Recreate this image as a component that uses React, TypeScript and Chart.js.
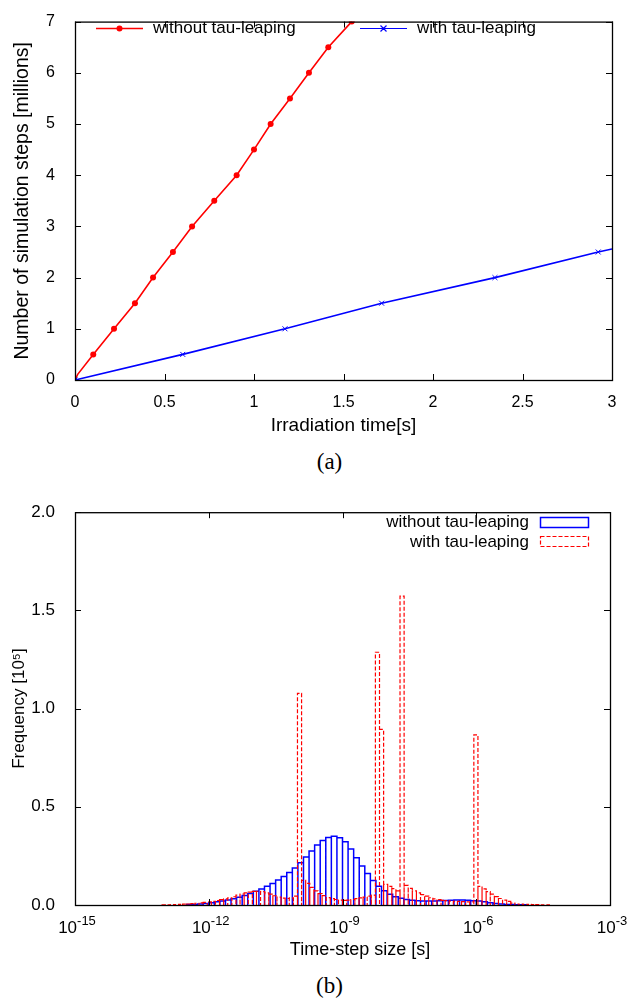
import React, { useEffect, useRef } from "react";
import { Chart, registerables } from "chart.js";
Chart.register(...registerables);

const SANS = "'Liberation Sans', Arial, Helvetica, sans-serif";
const SERIF = "'Liberation Serif', 'Times New Roman', serif";
Chart.defaults.font.family = SANS;
Chart.defaults.color = "#000";

// ---------- (a) simulation steps vs irradiation time ----------
const redTime = [0, 0.015, 0.102, 0.218, 0.335, 0.436, 0.547, 0.654, 0.778, 0.903, 1.0, 1.093, 1.201, 1.307, 1.415, 1.546];
const redSteps = [0, 0.11, 0.5, 1.0, 1.5, 2.0, 2.5, 3.0, 3.5, 4.0, 4.5, 5.0, 5.5, 6.0, 6.5, 7.0];
const blueTime = [0, 0.602, 1.173, 1.713, 2.346, 2.923, 3.0];
const blueSteps = [0, 0.5, 1.0, 1.5, 2.0, 2.5, 2.56];
const seriesA = ["without tau-leaping", "with tau-leaping"];

// ---------- (b) histogram of time-step sizes (log10 bins) ----------
const blueBinStart = -12.5;
const blueBinWidth = 0.125;
const blueFreq = [
  0.002, 0.003, 0.005, 0.008, 0.011, 0.016, 0.02, 0.025, 0.032, 0.04,
  0.049, 0.059, 0.07, 0.082, 0.096, 0.11, 0.127, 0.145, 0.165, 0.188,
  0.215, 0.245, 0.275, 0.305, 0.328, 0.344, 0.35, 0.342, 0.322, 0.285,
  0.24, 0.198, 0.16, 0.125, 0.096, 0.073, 0.055, 0.042, 0.034, 0.028,
  0.024, 0.022, 0.021, 0.021, 0.021, 0.022, 0.023, 0.024, 0.025, 0.025,
  0.024, 0.022, 0.02, 0.016, 0.012, 0.008, 0.005, 0.003, 0.002, 0.001, 0.001,
];
const redBinStart = -13.046;
const redBinWidth = 0.092;
const redFreq = [
  0.001, 0.001, 0.002, 0.002, 0.003, 0.004, 0.005, 0.007, 0.009, 0.011,
  0.013, 0.016, 0.019, 0.023, 0.027, 0.031, 0.036, 0.042, 0.05, 0.056,
  0.062, 0.066, 0.069, 0.07, 0.068, 0.062, 0.055, 0.047, 0.04, 0.035,
  0.033, 0.036, 0.045, 1.078, 0.125, 0.11, 0.09, 0.072, 0.058, 0.048,
  0.038, 0.032, 0.028, 0.025, 0.024, 0.025, 0.028, 0.032, 0.036, 0.04,
  0.045, 0.05, 1.287, 0.894, 0.105, 0.095, 0.083, 0.072, 1.573, 0.1,
  0.085, 0.072, 0.062, 0.053, 0.045, 0.037, 0.031, 0.027, 0.024, 0.022,
  0.02, 0.019, 0.018, 0.017, 0.016, 0.016, 0.866, 0.095, 0.082, 0.068,
  0.055, 0.043, 0.033, 0.025, 0.018, 0.01, 0.005, 0.004, 0.003, 0.003,
  0.002, 0.002, 0.001, 0.001, 0.001,
];
const xTickExps = [-15, -12, -9, -6, -3];
const yTicksB = [0, 0.5, 1.0, 1.5, 2.0];
const xTitleB = "Time-step size [s]";

function histOutline(start: number, width: number, vals: number[]) {
  const pts: { x: number; y: number }[] = [];
  vals.forEach((v, i) => {
    const l = Math.pow(10, start + i * width);
    const r = Math.pow(10, start + (i + 1) * width);
    pts.push({ x: l, y: 0 }, { x: l, y: v }, { x: r, y: v }, { x: r, y: 0 });
  });
  return pts;
}

// frame + inward mirrored ticks (gnuplot style)
const framePlugin = {
  id: "frame",
  afterDatasetsDraw(chart: any) {
    const { ctx, chartArea: a, scales } = chart;
    ctx.save();
    ctx.strokeStyle = "#000";
    ctx.lineWidth = 1;
    ctx.setLineDash([]);
    const tl = 6;
    const xs = scales.x;
    const ys = scales.y;
    const xv: number[] = chart.options.xTickVals || xs.ticks.map((t: any) => t.value);
    ctx.beginPath();
    xv.forEach((v) => {
      const px = Math.round(xs.getPixelForValue(v)) + 0.5;
      ctx.moveTo(px, a.bottom);
      ctx.lineTo(px, a.bottom - tl);
      ctx.moveTo(px, a.top);
      ctx.lineTo(px, a.top + tl);
    });
    ys.ticks.forEach((t: any) => {
      const py = Math.round(ys.getPixelForValue(t.value)) + 0.5;
      ctx.moveTo(a.left, py);
      ctx.lineTo(a.left + tl, py);
      ctx.moveTo(a.right, py);
      ctx.lineTo(a.right - tl, py);
    });
    ctx.stroke();
    ctx.lineWidth = 1.3;
    ctx.strokeRect(a.left + 0.5, a.top + 0.5, a.right - a.left, a.bottom - a.top);
    ctx.restore();
  },
};

const legendA = {
  id: "legendA",
  afterDraw(chart: any) {
    const { ctx } = chart;
    ctx.save();
    ctx.font = `17px ${SANS}`;
    ctx.textBaseline = "middle";
    ctx.textAlign = "left";
    // red
    ctx.strokeStyle = "#ff0000";
    ctx.lineWidth = 1.5;
    ctx.beginPath();
    ctx.moveTo(96, 28.5);
    ctx.lineTo(143, 28.5);
    ctx.stroke();
    ctx.fillStyle = "#ff0000";
    ctx.beginPath();
    ctx.arc(119.5, 28.5, 3, 0, Math.PI * 2);
    ctx.fill();
    ctx.fillStyle = "#000";
    ctx.fillText(seriesA[0], 153, 28);
    // blue
    ctx.strokeStyle = "#0000ff";
    ctx.lineWidth = 1.2;
    ctx.beginPath();
    ctx.moveTo(360, 28.5);
    ctx.lineTo(407, 28.5);
    ctx.moveTo(380.5, 25.5);
    ctx.lineTo(386.5, 31.5);
    ctx.moveTo(386.5, 25.5);
    ctx.lineTo(380.5, 31.5);
    ctx.stroke();
    ctx.fillText(seriesA[1], 417, 28);
    ctx.restore();
  },
};

const legendB = {
  id: "legendB",
  afterDraw(chart: any) {
    const { ctx } = chart;
    ctx.save();
    ctx.font = `17px ${SANS}`;
    ctx.textBaseline = "middle";
    ctx.textAlign = "right";
    ctx.fillStyle = "#000";
    ctx.fillText(seriesA[0], 529, 32);
    ctx.fillText(seriesA[1], 529, 52);
    ctx.strokeStyle = "#0000ff";
    ctx.lineWidth = 1.5;
    ctx.strokeRect(540.5, 27.5, 48, 10);
    ctx.strokeStyle = "#ff0000";
    ctx.lineWidth = 1.2;
    ctx.setLineDash([4, 2]);
    ctx.strokeRect(540.5, 46.5, 48, 10);
    ctx.restore();
  },
};

const xLabelsB = {
  id: "xLabelsB",
  afterDraw(chart: any) {
    const { ctx, scales } = chart;
    ctx.save();
    ctx.fillStyle = "#000";
    ctx.textBaseline = "alphabetic";
    ctx.textAlign = "left";
    xTickExps.forEach((e) => {
      const px = scales.x.getPixelForValue(Math.pow(10, e));
      ctx.font = `17px ${SANS}`;
      const w1 = ctx.measureText("10").width;
      ctx.font = `13px ${SANS}`;
      const w2 = ctx.measureText(String(e)).width;
      const x0 = px - (w1 + w2) / 2 + 2;
      ctx.font = `17px ${SANS}`;
      ctx.fillText("10", x0, 442.5);
      ctx.font = `13px ${SANS}`;
      ctx.fillText(String(e), x0 + w1, 435);
    });
    ctx.font = `18px ${SANS}`;
    ctx.textAlign = "center";
    ctx.textBaseline = "middle";
    ctx.fillText(xTitleB, 360, 460);
    ctx.restore();
  },
};

function ChartA() {
  const ref = useRef<HTMLCanvasElement>(null);
  useEffect(() => {
    const chart = new Chart(ref.current!, {
      type: "line",
      data: {
        datasets: [
          {
            label: seriesA[0],
            data: redTime.map((t, i) => ({ x: t, y: redSteps[i] })),
            borderColor: "#ff0000",
            backgroundColor: "#ff0000",
            pointBackgroundColor: "#ff0000",
            pointBorderColor: "#ff0000",
            borderWidth: 1.6,
            pointStyle: "circle",
            pointRadius: (c: any) => {
              const y = c.raw?.y ?? 0;
              return y > 0 && Math.abs(y * 2 - Math.round(y * 2)) < 1e-6 ? 3 : 0;
            },
            pointBorderWidth: 0,
            tension: 0,
            order: 1,
          },
          {
            label: seriesA[1],
            data: blueTime.map((t, i) => ({ x: t, y: blueSteps[i] })),
            borderColor: "#0000ff",
            backgroundColor: "#0000ff",
            pointBorderColor: "#0000ff",
            borderWidth: 1.6,
            pointStyle: "crossRot",
            pointRadius: (c: any) => {
              const y = c.raw?.y ?? 0;
              return Math.abs(y * 2 - Math.round(y * 2)) < 1e-6 ? 3.5 : 0;
            },
            pointBorderWidth: 1,
            tension: 0,
            order: 0,
          },
        ],
      },
      options: {
        animation: false,
        responsive: false,
        maintainAspectRatio: false,
        layout: { padding: { top: 14, right: 23, left: 0, bottom: 0 } },
        plugins: { legend: { display: false }, tooltip: { enabled: false } },
        scales: {
          x: {
            type: "linear",
            min: 0,
            max: 3,
            ticks: {
              stepSize: 0.5, font: { size: 16 }, color: "#000", padding: 5, maxRotation: 0, autoSkip: false,
              callback: (v: any) => String(Number(v)),
            },
            grid: { display: false },
            border: { display: false },
            title: { display: true, text: "Irradiation time[s]", font: { size: 19 }, color: "#000", padding: { top: 0, bottom: 8 } },
            afterFit: (s: any) => { s.height = 65; },
          },
          y: {
            type: "linear",
            min: 0,
            max: 7,
            ticks: { stepSize: 1, font: { size: 16 }, color: "#000", padding: 12 },
            grid: { display: false },
            border: { display: false },
            title: { display: true, text: "Number of simulation steps [millions]", font: { size: 19.5 }, color: "#000", padding: { top: 11, bottom: 0 } },
            afterFit: (s: any) => { s.width = 75; },
          },
        },
      } as any,
      plugins: [framePlugin, legendA],
    });
    return () => chart.destroy();
  }, []);
  return <canvas ref={ref} width={635} height={445} style={{ position: "absolute", left: 0, top: 0 }} />;
}

function ChartB() {
  const ref = useRef<HTMLCanvasElement>(null);
  useEffect(() => {
    const chart = new Chart(ref.current!, {
      type: "line",
      data: {
        datasets: [
          {
            label: seriesA[1],
            data: histOutline(redBinStart, redBinWidth, redFreq),
            borderColor: "#ff0000",
            borderWidth: 1.2,
            borderDash: [4, 2],
            pointRadius: 0,
            tension: 0,
            order: 0,
          },
          {
            label: seriesA[0],
            data: histOutline(blueBinStart, blueBinWidth, blueFreq),
            borderColor: "#0000ff",
            borderWidth: 1.5,
            pointRadius: 0,
            tension: 0,
            order: 1,
          },
        ],
      },
      options: {
        animation: false,
        responsive: false,
        maintainAspectRatio: false,
        xTickVals: xTickExps.map((e) => Math.pow(10, e)),
        layout: { padding: { top: 16, right: 25, left: 0, bottom: 0 } },
        plugins: { legend: { display: false }, tooltip: { enabled: false } },
        scales: {
          x: {
            type: "logarithmic",
            min: 1e-15,
            max: 1e-3,
            ticks: { display: false },
            grid: { display: false },
            border: { display: false },
            title: { display: false },
            afterFit: (s: any) => { s.height = 60; },
          },
          y: {
            type: "linear",
            min: 0,
            max: 2,
            afterBuildTicks: (s: any) => { s.ticks = yTicksB.map((v) => ({ value: v })); },
            ticks: { font: { size: 17 }, color: "#000", padding: 12, callback: (v: any) => Number(v).toFixed(1) },
            grid: { display: false },
            border: { display: false },
            title: { display: true, text: "Frequency [10⁵]", font: { size: 17 }, color: "#000", padding: { top: 9, bottom: 0 } },
            afterFit: (s: any) => { s.width = 75; },
          },
        },
      } as any,
      plugins: [framePlugin, legendB, xLabelsB],
    });
    return () => chart.destroy();
  }, []);
  return <canvas ref={ref} width={635} height={475} style={{ position: "absolute", left: 0, top: 490 }} />;
}

const captionStyle: React.CSSProperties = {
  position: "absolute",
  left: 12,
  width: 635,
  height: 28,
  lineHeight: "28px",
  textAlign: "center",
  fontFamily: SERIF,
  fontSize: 23,
  color: "#000",
};

export default function App() {
  return (
    <div style={{ position: "absolute", left: 0, top: 0, width: 635, height: 1003, background: "#fff" }}>
      <ChartA />
      <div style={{ ...captionStyle, top: 448 }}>(a)</div>
      <ChartB />
      <div style={{ ...captionStyle, top: 972 }}>(b)</div>
    </div>
  );
}
